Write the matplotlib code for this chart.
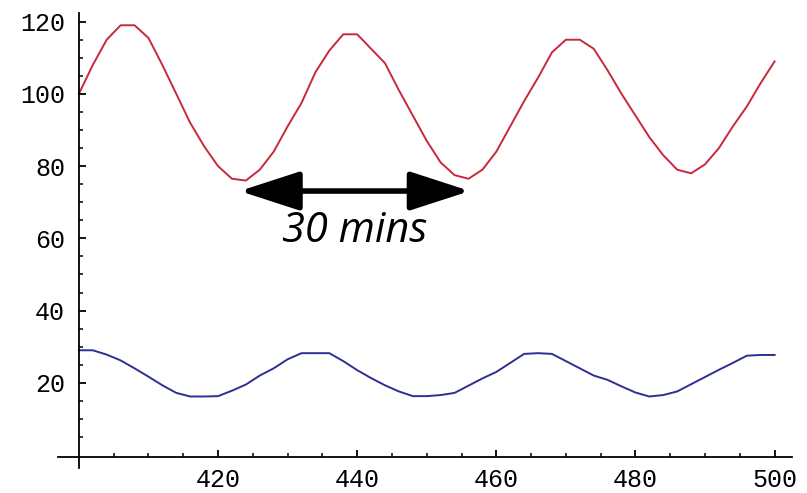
import matplotlib
matplotlib.use("Agg")
import matplotlib.pyplot as plt
from matplotlib.ticker import FixedLocator

# time axis (minutes)
t = [400, 402, 404, 406, 408, 410, 412, 414, 416, 418, 420, 422, 424, 426, 428,
     430, 432, 434, 436, 438, 440, 442, 444, 446, 448, 450, 452, 454, 456, 458,
     460, 462, 464, 466, 468, 470, 472, 474, 476, 478, 480, 482, 484, 486, 488,
     490, 492, 494, 496, 498, 500]

red_values = [100, 108, 115, 119, 119, 115.5, 108, 100, 92, 85.5, 80, 76.5, 76, 79, 84,
              91, 97.5, 106, 112, 116.5, 116.5, 112.5, 108.5, 101, 94, 87, 81, 77.5, 76.5, 79,
              84, 91, 98, 104.5, 111.5, 115, 115, 112.5, 106.5, 100, 94, 88, 83, 79, 78,
              80.5, 85, 91, 96.5, 103, 109]

blue_values = [29, 29, 27.8, 26.2, 24, 21.7, 19.3, 17.2, 16.2, 16.2, 16.3, 17.8, 19.5, 22, 24,
               26.5, 28.2, 28.2, 28.2, 26, 23.5, 21.3, 19.3, 17.6, 16.3, 16.3, 16.6, 17.2, 19.2, 21.2,
               23, 25.5, 28, 28.2, 28, 26, 24, 22, 20.8, 19, 17.3, 16.2, 16.6, 17.6, 19.6,
               21.6, 23.6, 25.5, 27.5, 27.7, 27.7]

x_ticks = [420, 440, 460, 480, 500]
y_ticks = [20, 40, 60, 80, 100, 120]

arrow_start = (423.1, 73.1)
arrow_end = (456.2, 73.1)
label_text = "30 mins"
label_pos = (439.7, 59.0)

fig = plt.figure(figsize=(8.07, 4.93), dpi=100)
ax = fig.add_axes([58/807, 25/493, 734/807, 455/493])

ax.plot(t, red_values, color="#c8283c", lw=1.4)
ax.plot(t, blue_values, color="#2e2e94", lw=1.4)

ax.set_xlim(397, 502.5)
ax.set_ylim(-3.6, 122.4)

for s in ["top", "right"]:
    ax.spines[s].set_visible(False)
ax.spines["left"].set_position(("data", 400))
ax.spines["bottom"].set_position(("data", -0.5))
ax.spines["left"].set_linewidth(1.3)
ax.spines["bottom"].set_linewidth(1.3)

ax.xaxis.set_major_locator(FixedLocator(x_ticks))
ax.xaxis.set_minor_locator(FixedLocator([v for v in range(405, 501, 5) if v % 20 != 0]))
ax.yaxis.set_major_locator(FixedLocator(y_ticks))
ax.yaxis.set_minor_locator(FixedLocator([v for v in range(5, 121, 5) if v % 20 != 0]))

ax.tick_params(axis="both", which="major", direction="in", length=5, width=1.3)
ax.tick_params(axis="both", which="minor", direction="in", length=3, width=1.1)
ax.tick_params(axis="x", which="major", pad=8)
ax.tick_params(axis="y", which="major", pad=10)

for lbl in ax.get_xticklabels() + ax.get_yticklabels():
    lbl.set_fontfamily("Liberation Mono")
    lbl.set_fontsize(18)

ax.annotate("", xy=arrow_end, xytext=arrow_start,
            arrowprops=dict(arrowstyle="<|-|>,head_length=1.85,head_width=0.6",
                            mutation_scale=20, lw=4.0, color="black",
                            shrinkA=0, shrinkB=0))
ax.text(label_pos[0], label_pos[1], label_text, fontsize=30, fontstyle="italic",
        family="Open Sans", ha="center", va="baseline", color="black")

fig.savefig("out.png", dpi=100)
